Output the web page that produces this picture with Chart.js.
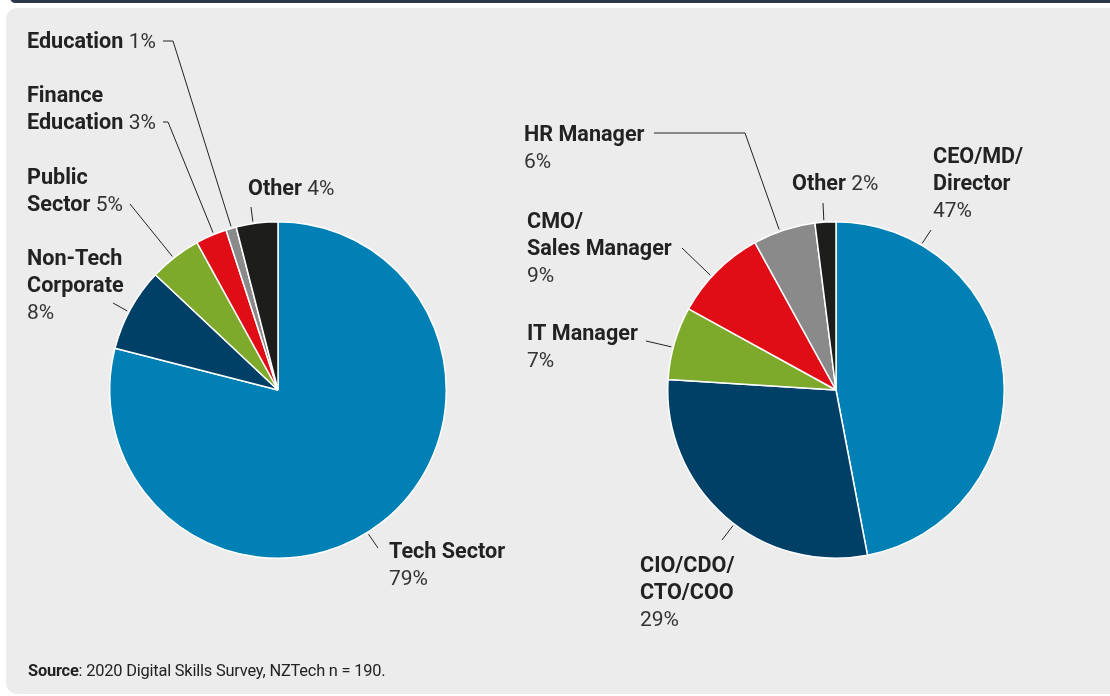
<!DOCTYPE html>
<html>
<head>
<meta charset="utf-8">
<script src="https://cdn.jsdelivr.net/npm/chart.js@4.4.1/dist/chart.umd.min.js"></script>
<style>
  html, body { margin: 0; padding: 0; background: #ffffff; width: 1110px; height: 696px; overflow: hidden; font-family: Roboto, "Noto Sans", sans-serif; }
  #topbar { position: absolute; left: 10px; top: -8px; width: 1120px; height: 11px; border-radius: 8px; background: #2c3648; }
  #panel { position: absolute; left: 6px; top: 8px; width: 1120px; height: 686px; border-radius: 11px; background: #ececec; }
  canvas { position: absolute; left: 0; top: 0; }
  #source { position: absolute; left: 28px; top: 661px; font-size: 16.4px; color: #222; letter-spacing: -0.2px; }
  #source b { font-weight: 700; }
</style>
</head>
<body>
<div id="topbar"></div>
<div id="panel"></div>
<canvas id="c1" width="1110" height="696"></canvas>
<canvas id="c2" width="1110" height="696"></canvas>
<div id="source"><b>Source</b>: 2020 Digital Skills Survey, NZTech n = 190.</div>
<script>
// ---- Data ----
const sectorCategories = [['Tech Sector'], ['Non-Tech', 'Corporate'], ['Public', 'Sector'], ['Finance', 'Education'], ['Education'], ['Other']];
const sectorValues = [79, 8, 5, 3, 1, 4];
const sectorColors = ['#0080b4', '#003f66', '#7eaa2c', '#e00d17', '#8a8a8a', '#1d1d1b'];

const roleCategories = [['CEO/MD/', 'Director'], ['CIO/CDO/', 'CTO/COO'], ['IT Manager'], ['CMO/', 'Sales Manager'], ['HR Manager'], ['Other']];
const roleValues = [47, 29, 7, 9, 6, 2];
const roleColors = ['#0080b4', '#003f66', '#7eaa2c', '#e00d17', '#8a8a8a', '#1d1d1b'];

// ---- Label layout (positions only) ----
const LH = 27;
const sectorLayout = [
  { x: 389, y: 558, inline: false, f: 0.52, path: [[378, 548]] },
  { x: 27,  y: 265, inline: false, f: 0.46, path: [[113, 303]] },
  { x: 27,  y: 184, inline: true,  f: 0.47, path: [[130, 204]] },
  { x: 27,  y: 102, inline: true,  f: 0.59, path: [[163, 122], [168, 122]] },
  { x: 27,  y: 48,  inline: true,  f: 0.55, path: [[163, 41], [173, 41]] },
  { x: 248, y: 195, inline: true,  f: 0.41, path: [[251, 207]] }
];
const roleLayout = [
  { x: 933, y: 163, inline: false, f: 0.18, path: [[931, 230]] },
  { x: 640, y: 572, inline: false, f: 0.46, path: [[722, 540]] },
  { x: 527, y: 340, inline: false, f: 0.44, path: [[646, 341]] },
  { x: 527, y: 228, inline: false, f: 0.42, path: [[682, 248]] },
  { x: 524, y: 141, inline: false, f: 0.43, path: [[654, 133], [745, 133]] },
  { x: 792, y: 190, inline: true,  f: 0.43, path: [[823, 203]] }
];

const BOLD = '700 21.6px Roboto, "Noto Sans", sans-serif';
const REG = '400 21px Roboto, "Noto Sans", sans-serif';

function labelPlugin(layout) {
  return {
    id: 'pieLabels',
    afterDraw(chart) {
      const ctx = chart.ctx;
      const meta = chart.getDatasetMeta(0);
      const labels = chart.data.labels;
      const values = chart.data.datasets[0].data;
      ctx.save();
      ctx.textBaseline = 'alphabetic';
      ctx.textAlign = 'left';
      meta.data.forEach((arc, i) => {
        const L = layout[i];
        const lines = labels[i];
        const pct = values[i] + '%';
        ctx.fillStyle = '#222222';
        let y = L.y;
        lines.forEach((line, k) => {
          ctx.font = BOLD;
          ctx.fillText(line, L.x, y);
          if (L.inline && k === lines.length - 1) {
            const w = ctx.measureText(line + ' ').width;
            ctx.font = REG;
            ctx.fillStyle = '#333333';
            ctx.fillText(pct, L.x + w, y);
            ctx.fillStyle = '#222222';
          }
          y += LH;
        });
        if (!L.inline) {
          ctx.font = REG;
          ctx.fillStyle = '#333333';
          ctx.fillText(pct, L.x, y);
        }
        // leader line
        const p = arc.getProps(['x', 'y', 'startAngle', 'endAngle', 'outerRadius'], true);
        const a = p.startAngle + L.f * (p.endAngle - p.startAngle);
        const r = p.outerRadius + 2;
        ctx.strokeStyle = '#222222';
        ctx.lineWidth = 1;
        ctx.beginPath();
        ctx.moveTo(L.path[0][0], L.path[0][1]);
        for (let k = 1; k < L.path.length; k++) ctx.lineTo(L.path[k][0], L.path[k][1]);
        ctx.lineTo(p.x + Math.cos(a) * r, p.y + Math.sin(a) * r);
        ctx.stroke();
      });
      ctx.restore();
    }
  };
}

function makePie(id, cats, vals, colors, padding, layout) {
  return new Chart(document.getElementById(id), {
    type: 'pie',
    data: {
      labels: cats,
      datasets: [{ data: vals, backgroundColor: colors, borderColor: '#ffffff', borderWidth: 1.5 }]
    },
    options: {
      responsive: false,
      devicePixelRatio: 1,
      animation: false,
      layout: { padding: padding },
      plugins: { legend: { display: false }, tooltip: { enabled: false } }
    },
    plugins: [labelPlugin(layout)]
  });
}

makePie('c1', sectorCategories, sectorValues, sectorColors, { left: 109, right: 663, top: 221, bottom: 137 }, sectorLayout);
makePie('c2', roleCategories, roleValues, roleColors, { left: 666, right: 104, top: 221, bottom: 137 }, roleLayout);
</script>
</body>
</html>
